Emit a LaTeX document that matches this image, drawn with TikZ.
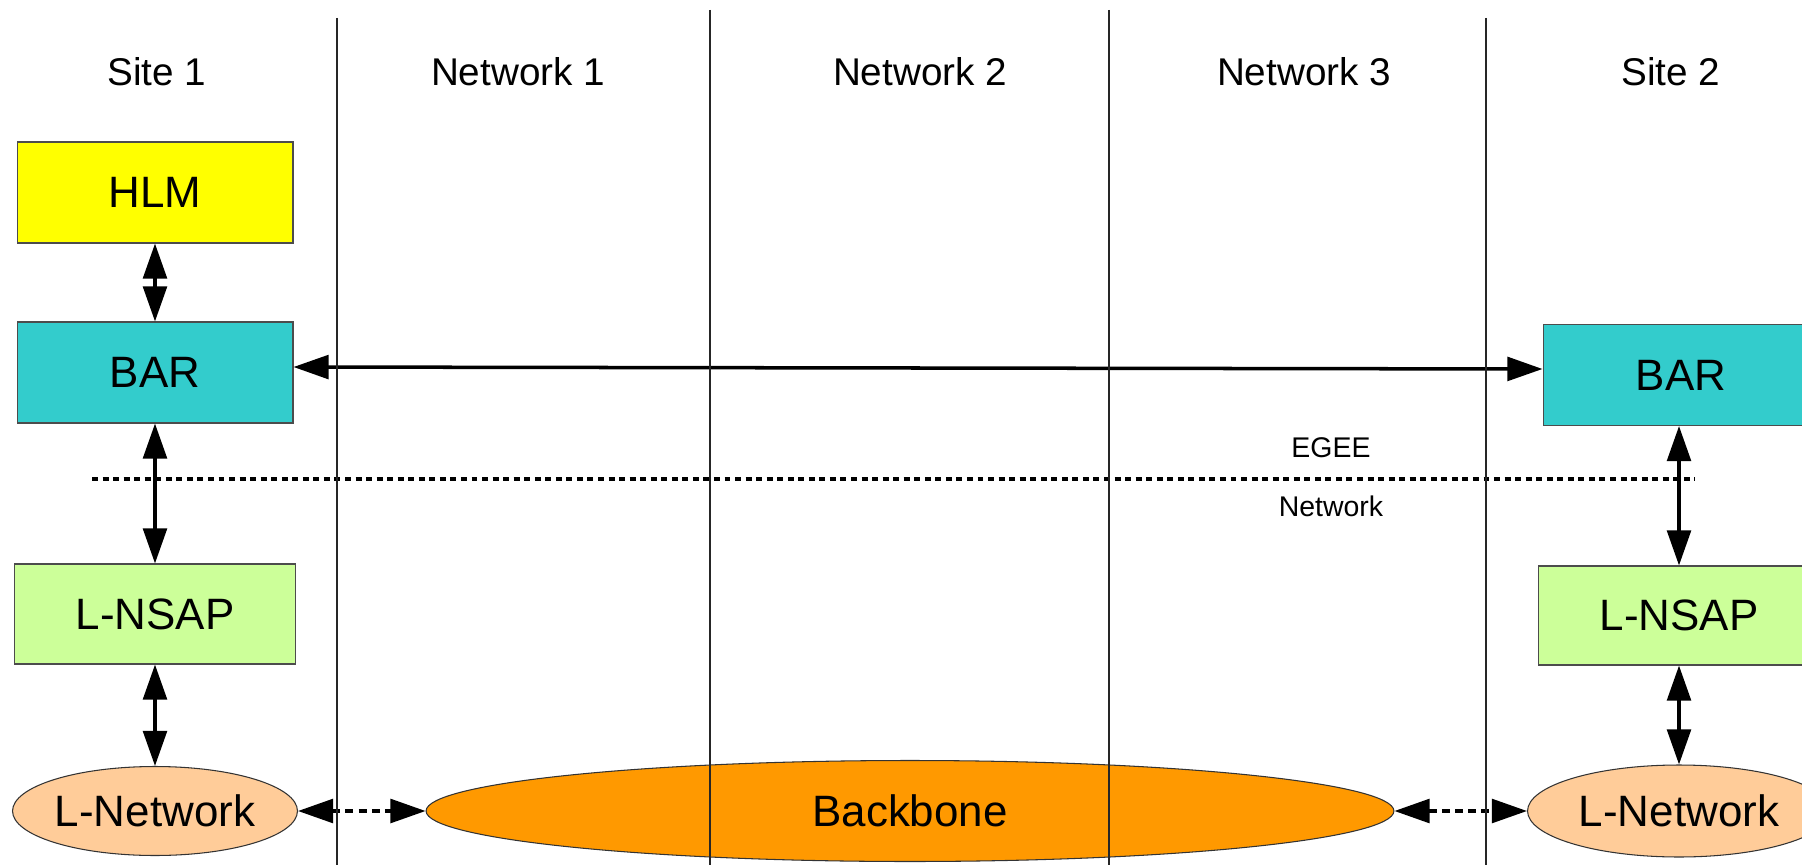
\documentclass[tikz,border=0pt]{standalone}
\usepackage{fontspec}
\setmainfont{Liberation Sans}
\usetikzlibrary{arrows.meta, shapes.geometric}

\definecolor{hlmyellow}{HTML}{FFFF00}
\definecolor{barteal}{HTML}{33CCCC}
\definecolor{nsapgreen}{HTML}{CCFF99}
\definecolor{lnetpeach}{HTML}{FFCC99}
\definecolor{bborange}{HTML}{FF9900}

\tikzset{
  block/.style={draw=black!70, line width=0.6pt, minimum width=5.52cm, minimum height=2.02cm, inner sep=0pt, font=\fontsize{25}{30}\selectfont},
  netblob/.style={ellipse, draw=black!80, line width=0.6pt, inner sep=0pt, font=\fontsize{25}{30}\selectfont},
  colhead/.style={font=\fontsize{22}{26}\selectfont},
  note/.style={font=\fontsize{16.2}{19}\selectfont},
  conn/.style={line width=2pt, {Triangle[length=20pt,width=13.5pt]}-{Triangle[length=20pt,width=13.5pt]}},
  dlink/.style={conn, dash pattern=on 4.5pt off 3pt},
  colsep/.style={line width=0.6pt, black!85},
  divider/.style={line width=1.9pt, dash pattern=on 3.4pt off 2.6pt}
}

\begin{document}
\begin{tikzpicture}[x=0.02cm, y=-0.02cm]
                \path[use as bounding box, clip] (0,0) rectangle (1802,865);
                \fill[white] (0,0) rectangle (1802,865);

                % column titles
                \node[colhead] (site1) at (157,72) {Site 1};
                \node[colhead] (net1) at (518,72) {Network 1};
                \node[colhead] (net2) at (920,72) {Network 2};
                \node[colhead] (net3) at (1304,72) {Network 3};
                \node[colhead] (site2) at (1671,72) {Site 2};

                % Site 1
                \node[block, fill=hlmyellow] (hlm) at (155,192.5) {HLM};
                \node[block, fill=barteal] (bar1) at (155,372.5) {BAR};
                \node[block, fill=nsapgreen, minimum width=5.62cm, minimum height=2cm] (nsap1) at (155,614) {L-NSAP};
                \node[netblob, fill=lnetpeach, minimum width=5.7cm, minimum height=1.78cm] (lnet1) at (155,811) {L-Network};

                % Backbone
                \node[netblob, fill=bborange, minimum width=19.36cm, minimum height=2.02cm] (backbone) at (910,811) {Backbone};

                % Site 2
                \node[block, fill=barteal] (bar2) at (1681,375) {BAR};
                \node[block, fill=nsapgreen, minimum width=5.62cm, minimum height=1.98cm] (nsap2) at (1679,615.5) {L-NSAP};
                \node[netblob, fill=lnetpeach, minimum width=6.06cm, minimum height=1.84cm] (lnet2) at (1679,811) {L-Network};

                % EGEE / Network boundary
                \draw[divider] (92,479) -- (1695,479);
                \node[note] (egee) at (1331,448) {EGEE};
                \node[note] (nwlabel) at (1331,506) {Network};

                % arrows
                \draw[conn] (hlm) -- (bar1);
                \draw[conn] (bar1) -- (nsap1);
                \draw[conn] (nsap1) -- (lnet1);
                \draw[conn] ([yshift=0.11cm]bar1.east) -- ([yshift=0.12cm]bar2.west);
                \draw[conn] (bar2.south -| nsap2) -- (nsap2);
                \draw[conn] (nsap2) -- (lnet2);
                \draw[dlink] (lnet1) -- (backbone);
                \draw[dlink] (backbone) -- (lnet2);

                % column separators
                \foreach \x/\t in {337/18, 710/10, 1109/10, 1486/18}
                    \draw[colsep] (\x,\t) -- (\x,865);
            \end{tikzpicture}
\end{document}
